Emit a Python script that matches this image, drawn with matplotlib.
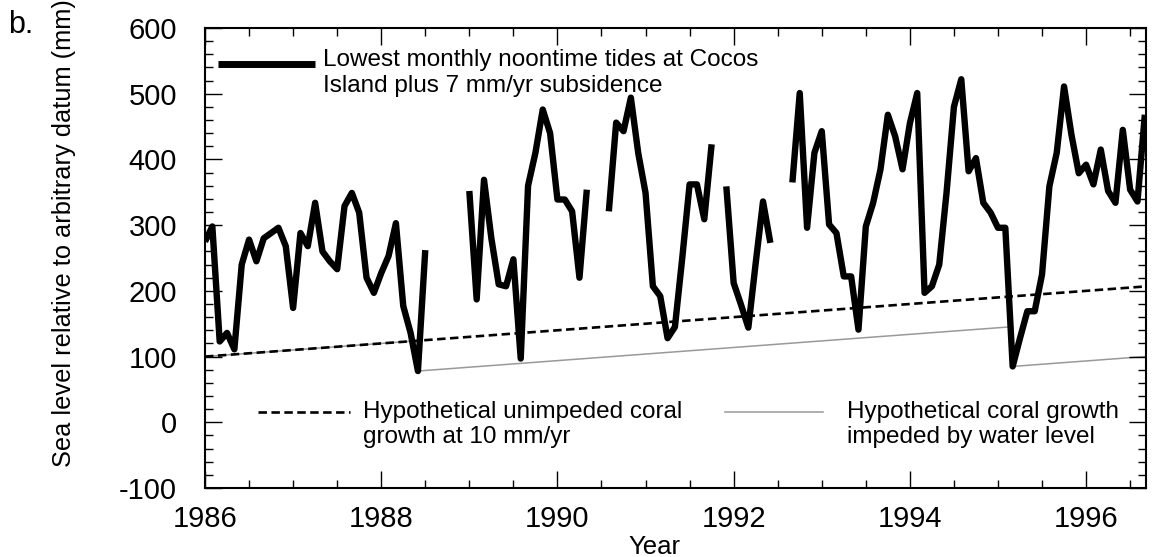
import numpy as np
import matplotlib
matplotlib.use("Agg")
import matplotlib.pyplot as plt
from matplotlib.ticker import MultipleLocator, FixedLocator

plt.rcParams['font.family'] = ['Liberation Sans', 'DejaVu Sans']
plt.rcParams['axes.unicode_minus'] = False

# ---- data: lowest monthly noontime tides (mm), monthly, in gap-separated runs
seg_start_years = [1986.0, 1989.0, 1990 + 7 / 12, 1991 + 11 / 12, 1992 + 8 / 12]
tides_1986 = [275, 298, 123, 136, 111, 240, 278, 245, 280, 288, 296, 268,
              174, 288, 268, 334, 260, 245, 233, 329, 349, 319, 220, 197,
              227, 253, 303, 177, 136, 78, 262]
tides_1989 = [352, 187, 369, 280, 210, 207, 248, 97, 360, 410, 476, 440,
              339, 339, 321, 220, 354]
tides_1990 = [321, 456, 443, 494, 410, 349, 207, 192, 128, 145, 250, 362,
              362, 309, 423]
tides_1991 = [359, 212, 179, 144, 242, 336, 273]
tides_1992 = [365, 501, 296, 410,
              443, 301, 288, 222, 222, 141, 298, 334, 385, 468, 435, 385,
              455, 501, 197, 207, 240, 350, 480, 522, 382, 402, 334, 319,
              296, 296, 85, 128, 169, 169, 225, 359, 410, 511, 438, 379,
              392, 362, 415, 352, 334, 445, 354, 336, 468]
segments = [tides_1986, tides_1989, tides_1990, tides_1991, tides_1992]

# hypothetical coral growth
growth_rate = 10.0          # mm / yr
growth_start_year = 1986.0
growth_start_level = 100.0
x_end = 1996.68

x_ticks = [1986, 1988, 1990, 1992, 1994, 1996]
y_ticks = [-100, 0, 100, 200, 300, 400, 500, 600]

# ---- figure
fig = plt.figure(figsize=(11.53, 5.57), dpi=100)
ax = fig.add_axes([205 / 1153, 1 - 488 / 557, 941 / 1153, 460 / 557])

# impeded growth: coral top is cut down to the lowest water level
all_t, all_v = [], []
for start, vals in zip(seg_start_years, segments):
    for i, v in enumerate(vals):
        all_t.append(start + i / 12)
        all_v.append(v)
kt, kv = [growth_start_year], [growth_start_level]
level_t, level_v = growth_start_year, growth_start_level
for t, v in zip(all_t, all_v):
    cur = level_v + growth_rate * (t - level_t)
    if v < cur:
        kt += [t, t]
        kv += [cur, v]
        level_t, level_v = t, v
kt.append(x_end)
kv.append(level_v + growth_rate * (x_end - level_t))
ax.plot(kt, kv, color='0.6', lw=1.1, zorder=1, solid_capstyle='butt')

# unimpeded growth
ut = [growth_start_year, x_end]
uv = [growth_start_level, growth_start_level + growth_rate * (x_end - growth_start_year)]
ax.plot(ut, uv, color='black', lw=1.9, dashes=(3.2, 1.7), zorder=2)

# tides
for start, vals in zip(seg_start_years, segments):
    t = start + np.arange(len(vals)) / 12
    ax.plot(t, vals, color='black', lw=4.6, zorder=3,
            solid_joinstyle='round', solid_capstyle='butt')

ax.set_xlim(1986, x_end)
ax.set_ylim(-100, 600)
ax.xaxis.set_major_locator(FixedLocator(x_ticks))
ax.xaxis.set_minor_locator(MultipleLocator(0.5))
ax.yaxis.set_major_locator(FixedLocator(y_ticks))
ax.yaxis.set_minor_locator(MultipleLocator(20))
ax.tick_params(which='both', direction='in', top=True, right=True, width=1.0)
ax.tick_params(which='major', length=12, labelsize=21)
ax.tick_params(which='minor', length=6)
ax.tick_params(axis='y', which='major', pad=20)
ax.tick_params(axis='x', which='major', pad=12)
for s in ax.spines.values():
    s.set_linewidth(1.5)

ax.set_ylabel('Sea level relative to arbitrary datum (mm)', fontsize=18.3)
ax.yaxis.set_label_coords(-0.137, 0.555)
ax.set_xlabel('Year', fontsize=18.5)
ax.xaxis.set_label_coords(0.478, -0.102)

# ---- legend keys and texts (axes coordinates)
tr = ax.transAxes
ax.plot([0.0138, 0.1169], [0.9217, 0.9217], color='black', lw=5.0,
        transform=tr, solid_capstyle='butt', clip_on=False)
ax.text(0.1254, 0.8615, 'Lowest monthly noontime tides at Cocos\nIsland plus 7 mm/yr subsidence',
        transform=tr, fontsize=17.5, va='baseline', ha='left')
ax.plot([0.0563, 0.154], [0.165, 0.165], color='black', lw=1.9,
        dashes=(3.2, 1.7), transform=tr)
ax.text(0.168, 0.0978, 'Hypothetical unimpeded coral\ngrowth at 10 mm/yr',
        transform=tr, fontsize=17.5, va='baseline', ha='left')
ax.plot([0.5526, 0.6567], [0.165, 0.165], color='0.6', lw=1.1, transform=tr)
ax.text(0.6822, 0.0978, 'Hypothetical coral growth\nimpeded by water level',
        transform=tr, fontsize=17.5, va='baseline', ha='left')

fig.text(8 / 1153, 1 - 33 / 557, 'b.', fontsize=22, va='baseline', ha='left')

fig.savefig('out.png', dpi=100)
